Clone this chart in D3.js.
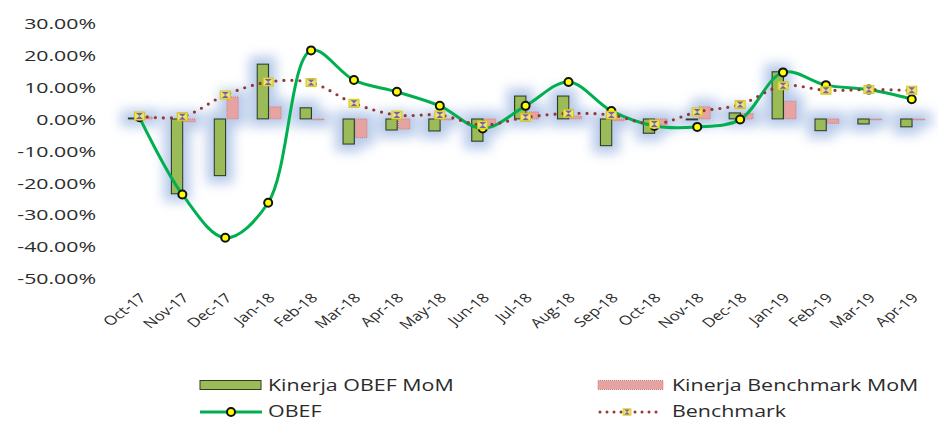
<!DOCTYPE html>
<html>
<head>
<meta charset="utf-8" />
<title>Kinerja OBEF vs Benchmark</title>
<script src="https://cdn.jsdelivr.net/npm/d3@7/dist/d3.min.js"></script>
<style>
    body { margin: 0; background: #fff; }
    text { font-family: "Open Sans", sans-serif; fill: #2b2b2b; }
</style>
</head>
<body>
<div id="vis"></div>
<script>
    var months = ["Oct-17", "Nov-17", "Dec-17", "Jan-18", "Feb-18", "Mar-18", "Apr-18", "May-18", "Jun-18", "Jul-18",
        "Aug-18", "Sep-18", "Oct-18", "Nov-18", "Dec-18", "Jan-19", "Feb-19", "Mar-19", "Apr-19"];

    // values in percent
    var obefMoM = [0.3, -23.5, -17.8, 17.2, 3.5, -7.9, -3.5, -3.8, -7.0, 7.2,
        7.2, -8.4, -4.5, -0.3, 1.9, 14.8, -3.7, -1.6, -2.5];
    var benchMoM = [0.6, -0.9, 6.9, 3.8, -0.2, -5.9, -3.2, -0.2, -2.4, 2.2,
        0.9, -0.6, -1.9, 3.8, 1.7, 5.6, -1.4, -0.2, -0.2];
    var obef = [0.5, -23.7, -37.3, -26.3, 21.5, 12.2, 8.5, 4.1, -3.0, 4.1,
        11.6, 2.5, -2.2, -2.5, -0.2, 14.6, 10.6, 9.2, 6.2];
    var benchmark = [0.9, 0.7, 7.5, 11.6, 11.4, 4.9, 1.2, 1.2, -1.9, 0.5,
        1.7, 1.2, -1.6, 2.2, 4.5, 10.4, 9.0, 9.2, 9.0];

    var yTicks = [30, 20, 10, 0, -10, -20, -30, -40, -50];

    var width = 938,
        height = 422;

    var svg = d3.select("#vis").append("svg")
        .attr("width", width)
        .attr("height", height);

    var defs = svg.append("defs");
    var glow = defs.append("filter")
        .attr("id", "glow")
        .attr("x", "-200%").attr("y", "-100%")
        .attr("width", "500%").attr("height", "300%");
    glow.append("feMorphology").attr("in", "SourceAlpha").attr("operator", "dilate").attr("radius", 7).attr("result", "d");
    glow.append("feGaussianBlur").attr("in", "d").attr("stdDeviation", 6).attr("result", "b");
    glow.append("feFlood").attr("flood-color", "#b3c7e8").attr("flood-opacity", 0.95);
    glow.append("feComposite").attr("in2", "b").attr("operator", "in").attr("result", "g");
    var merge = glow.append("feMerge");
    merge.append("feMergeNode").attr("in", "g");
    merge.append("feMergeNode").attr("in", "SourceGraphic");

    var x = d3.scaleBand()
        .domain(months)
        .range([118, 933.2]);

    var inner = d3.scaleBand()
        .domain(["obef", "bench"])
        .range([-11, 13])
        .paddingInner(0.1);

    var y = d3.scaleLinear()
        .domain([-50, 30])
        .range([278.3, 23.3]);

    function cx(m) {
        return x(m) + x.bandwidth() / 2;
    }

    // y axis labels
    var yAxis = svg.append("g")
        .attr("transform", "translate(96,0)")
        .call(d3.axisLeft(y)
            .tickValues(yTicks)
            .tickSize(0)
            .tickFormat(function(d) { return d.toFixed(2) + "%"; }));
    yAxis.select(".domain").remove();
    yAxis.selectAll("text")
        .attr("x", 0)
        .attr("dy", "0.36em")
        .attr("transform", "scale(1.42,1)")
        .style("font-size", "15px")
        .style("font-family", "'Open Sans', sans-serif")
        .style("fill", "#2b2b2b");

    // x axis labels
    var xAxis = svg.append("g")
        .attr("transform", "translate(0,296)")
        .call(d3.axisBottom(x).tickSize(0));
    xAxis.select(".domain").remove();
    xAxis.selectAll("text")
        .attr("x", 0)
        .attr("y", 0)
        .attr("dy", "0.3em")
        .attr("text-anchor", "end")
        .attr("transform", "translate(4,0) scale(1.3,1) rotate(-45)")
        .style("font-size", "13px")
        .style("font-family", "'Open Sans', sans-serif")
        .style("fill", "#2b2b2b");

    // bars
    var bars = svg.append("g")
        .attr("filter", "url(#glow)");

    bars.selectAll(".obef-bar")
        .data(months)
        .enter().append("rect")
        .attr("class", "obef-bar")
        .attr("x", function(d) { return cx(d) + inner("obef"); })
        .attr("width", inner.bandwidth())
        .attr("y", function(d, i) { return y(Math.max(0, obefMoM[i])); })
        .attr("height", function(d, i) { return Math.max(1, Math.abs(y(obefMoM[i]) - y(0))); })
        .attr("fill", "#9bbb59")
        .attr("stroke", "#2f3d1c")
        .attr("stroke-width", 1.2);

    bars.selectAll(".bench-bar")
        .data(months)
        .enter().append("rect")
        .attr("class", "bench-bar")
        .attr("x", function(d) { return cx(d) + inner("bench"); })
        .attr("width", inner.bandwidth())
        .attr("y", function(d, i) { return y(Math.max(0, benchMoM[i])); })
        .attr("height", function(d, i) { return Math.max(1, Math.abs(y(benchMoM[i]) - y(0))); })
        .attr("fill", "#e6a3a1")
        .attr("stroke", "#c97b79")
        .attr("stroke-width", 1)
        .attr("stroke-dasharray", "1,1");

    // lines
    var line = d3.line()
        .x(function(d, i) { return cx(months[i]); })
        .y(function(d) { return y(d); })
        .curve(d3.curveCatmullRom.alpha(0.5));

    svg.append("path")
        .datum(obef)
        .attr("d", line)
        .attr("fill", "none")
        .attr("stroke", "#00b050")
        .attr("stroke-width", 3);

    svg.selectAll(".obef-dot")
        .data(obef)
        .enter().append("circle")
        .attr("class", "obef-dot")
        .attr("cx", function(d, i) { return cx(months[i]); })
        .attr("cy", function(d) { return y(d); })
        .attr("r", 4)
        .attr("fill", "#ffff00")
        .attr("stroke", "#111")
        .attr("stroke-width", 2);

    svg.append("path")
        .datum(benchmark)
        .attr("d", line)
        .attr("fill", "none")
        .attr("stroke", "#953735")
        .attr("stroke-width", 3.2)
        .attr("stroke-linecap", "round")
        .attr("stroke-dasharray", "0,8");

    function benchMarker(g) {
        g.append("rect")
            .attr("x", -5).attr("y", -4)
            .attr("width", 10).attr("height", 8)
            .attr("fill", "#e9e27a")
            .attr("stroke", "#d8c800")
            .attr("stroke-width", 1);
        g.append("path")
            .attr("d", "M-3.5,-3L3.5,-3L-3.5,3L3.5,3Z")
            .attr("fill", "#7a62a0");
    }

    svg.selectAll(".bench-dot")
        .data(benchmark)
        .enter().append("g")
        .attr("class", "bench-dot")
        .attr("transform", function(d, i) { return "translate(" + cx(months[i]) + "," + y(d) + ")"; })
        .each(function() { benchMarker(d3.select(this)); });

    // legend
    var legend = svg.append("g").attr("class", "legend");

    legend.append("rect")
        .attr("x", 200).attr("y", 380.5)
        .attr("width", 61).attr("height", 9)
        .attr("fill", "#9bbb59")
        .attr("stroke", "#2f3d1c");

    legend.append("rect")
        .attr("x", 598).attr("y", 380.5)
        .attr("width", 65).attr("height", 9)
        .attr("fill", "#e6a3a1")
        .attr("stroke", "#c97b79")
        .attr("stroke-dasharray", "1,1");

    legend.append("line")
        .attr("x1", 200).attr("x2", 262)
        .attr("y1", 412).attr("y2", 412)
        .attr("stroke", "#00b050")
        .attr("stroke-width", 3);
    legend.append("circle")
        .attr("cx", 231).attr("cy", 412)
        .attr("r", 4)
        .attr("fill", "#ffff00")
        .attr("stroke", "#111")
        .attr("stroke-width", 2);

    legend.append("line")
        .attr("x1", 600).attr("x2", 663)
        .attr("y1", 412).attr("y2", 412)
        .attr("stroke", "#953735")
        .attr("stroke-width", 3)
        .attr("stroke-linecap", "round")
        .attr("stroke-dasharray", "0,7");
    legend.append("g")
        .attr("transform", "translate(627,412) scale(0.8)")
        .call(benchMarker);

    var legendItems = [
        { label: "Kinerja OBEF MoM", x: 268, y: 390.5 },
        { label: "Kinerja Benchmark MoM", x: 672, y: 390.5 },
        { label: "OBEF", x: 268, y: 417 },
        { label: "Benchmark", x: 672, y: 417 }
    ];

    legend.selectAll("text")
        .data(legendItems)
        .enter().append("text")
        .attr("transform", function(d) { return "translate(" + d.x + "," + d.y + ") scale(1.26,1)"; })
        .style("font-size", "17px")
        .text(function(d) { return d.label; });
</script>
</body>
</html>
